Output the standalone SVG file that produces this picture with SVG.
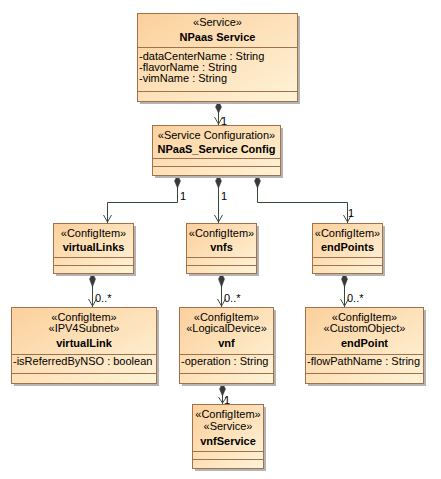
<svg xmlns="http://www.w3.org/2000/svg" width="441" height="479" viewBox="0 0 441 479">
<defs>
<linearGradient id="g" x1="0" y1="0" x2="1" y2="1">
<stop offset="0" stop-color="#FBD09C"/>
<stop offset="1" stop-color="#FFF3D8"/>
</linearGradient>
<style>
.sh{fill:#B4B4B4}
.bx{fill:url(#g);stroke:#A0714A;stroke-width:1}
.sp{stroke:#A0714A;stroke-width:1}
text{font-family:"Liberation Sans",Arial,sans-serif;font-size:11px;fill:#000}
.c{text-anchor:middle}
.b{font-weight:bold}
.ln{fill:none;stroke:#2F4A36;stroke-width:1}
.dm{fill:#3A3A3A;stroke:#3A3A3A;stroke-width:0.5}
.ar{fill:none;stroke:#4A4A4A;stroke-width:1}
</style>
</defs>
<rect width="441" height="479" fill="#fff"/>

<g id="connectors">
<!-- NPaas Service -> Config -->
<path class="ln" d="M218.5,101 V125"/>
<path class="dm" d="M218.5,101 L221.5,107 L218.5,113 L215.5,107 Z"/>
<path class="ar" d="M214.5,117 L218.5,124 L222.5,117"/>
<text x="221" y="125">1</text>
<!-- Config -> virtualLinks -->
<path class="ln" d="M177.5,175 V202.5 H107.5 V223"/>
<path class="dm" d="M177.5,175 L180.5,181 L177.5,188 L174.5,181 Z"/>
<path class="ar" d="M103.5,215 L107.5,222 L111.5,215"/>
<text x="180" y="200">1</text>
<!-- Config -> vnfs -->
<path class="ln" d="M218.5,175 V223"/>
<path class="dm" d="M218.5,175 L221.5,181 L218.5,188 L215.5,181 Z"/>
<path class="ar" d="M214.5,215 L218.5,222 L222.5,215"/>
<text x="221" y="200">1</text>
<!-- Config -> endPoints -->
<path class="ln" d="M257.5,175 V202.5 H347.5 V223"/>
<path class="dm" d="M257.5,175 L260.5,181 L257.5,188 L254.5,181 Z"/>
<path class="ar" d="M343.5,215 L347.5,222 L351.5,215"/>
<text x="348" y="217">1</text>
<!-- virtualLinks -> virtualLink -->
<path class="ln" d="M92.5,273 V307"/>
<path class="dm" d="M92.5,273 L95.5,279 L92.5,287 L89.5,279 Z"/>
<path class="ar" d="M88.5,299 L92.5,306 L96.5,299"/>
<text x="95" y="302">0..*</text>
<!-- vnfs -> vnf -->
<path class="ln" d="M221.5,273 V307"/>
<path class="dm" d="M221.5,273 L224.5,279 L221.5,287 L218.5,279 Z"/>
<path class="ar" d="M217.5,299 L221.5,306 L225.5,299"/>
<text x="224" y="302">0..*</text>
<!-- endPoints -> endPoint -->
<path class="ln" d="M344.5,273 V307"/>
<path class="dm" d="M344.5,273 L347.5,279 L344.5,287 L341.5,279 Z"/>
<path class="ar" d="M340.5,299 L344.5,306 L348.5,299"/>
<text x="347" y="302">0..*</text>
<!-- vnf -> vnfService -->
<path class="ln" d="M222.5,383 V404"/>
<path class="dm" d="M222.5,383 L225.5,389 L222.5,396 L219.5,389 Z"/>
<path class="ar" d="M218.5,397 L222.5,403 L226.5,397"/>
<text x="224" y="404">1</text>
</g>

<g id="npaasService">
<rect class="sh" x="140" y="16" width="160" height="88"/>
<rect class="bx" x="137.5" y="13.5" width="160" height="88"/>
<path class="sp" d="M137.5,47.5 H297.5 M137.5,91.5 H297.5"/>
<text class="c" x="217.5" y="26">«Service»</text>
<text class="c b" x="217.5" y="41">NPaas Service</text>
<text x="139" y="60">-dataCenterName : String</text>
<text x="139" y="71">-flavorName : String</text>
<text x="139" y="82">-vimName : String</text>
</g>

<g id="serviceConfig">
<rect class="sh" x="155" y="128" width="128" height="50"/>
<rect class="bx" x="152.5" y="125.5" width="128" height="50"/>
<path class="sp" d="M152.5,158.5 H280.5 M152.5,166.5 H280.5"/>
<text class="c" x="216.5" y="139">«Service Configuration»</text>
<text class="c b" x="216.5" y="153">NPaaS_Service Config</text>
</g>

<g id="virtualLinks">
<rect class="sh" x="56" y="226" width="80" height="50"/>
<rect class="bx" x="53.5" y="223.5" width="80" height="50"/>
<path class="sp" d="M53.5,257.5 H133.5 M53.5,265.5 H133.5"/>
<text class="c" x="93.5" y="237">«ConfigItem»</text>
<text class="c b" x="93.5" y="251">virtualLinks</text>
</g>

<g id="vnfs">
<rect class="sh" x="189" y="226" width="70" height="50"/>
<rect class="bx" x="186.5" y="223.5" width="70" height="50"/>
<path class="sp" d="M186.5,257.5 H256.5 M186.5,265.5 H256.5"/>
<text class="c" x="221.5" y="237">«ConfigItem»</text>
<text class="c b" x="221.5" y="251">vnfs</text>
</g>

<g id="endPoints">
<rect class="sh" x="315" y="226" width="70" height="50"/>
<rect class="bx" x="312.5" y="223.5" width="70" height="50"/>
<path class="sp" d="M312.5,257.5 H382.5 M312.5,265.5 H382.5"/>
<text class="c" x="347.5" y="237">«ConfigItem»</text>
<text class="c b" x="347.5" y="251">endPoints</text>
</g>

<g id="virtualLink">
<rect class="sh" x="14" y="310" width="145" height="76"/>
<rect class="bx" x="11.5" y="307.5" width="145" height="76"/>
<path class="sp" d="M11.5,354.5 H156.5 M11.5,373.5 H156.5"/>
<text class="c" x="84" y="321">«ConfigItem»</text>
<text class="c" x="84" y="332">«IPV4Subnet»</text>
<text class="c b" x="84" y="347">virtualLink</text>
<text x="13" y="365">-isReferredByNSO : boolean</text>
</g>

<g id="vnf">
<rect class="sh" x="182" y="310" width="94" height="76"/>
<rect class="bx" x="179.5" y="307.5" width="94" height="76"/>
<path class="sp" d="M179.5,354.5 H273.5 M179.5,373.5 H273.5"/>
<text class="c" x="226.5" y="321">«ConfigItem»</text>
<text class="c" x="226.5" y="332">«LogicalDevice»</text>
<text class="c b" x="226.5" y="347">vnf</text>
<text x="181" y="365">-operation : String</text>
</g>

<g id="endPoint">
<rect class="sh" x="308" y="310" width="118" height="76"/>
<rect class="bx" x="305.5" y="307.5" width="118" height="76"/>
<path class="sp" d="M305.5,354.5 H423.5 M305.5,373.5 H423.5"/>
<text class="c" x="364.5" y="321">«ConfigItem»</text>
<text class="c" x="364.5" y="332">«CustomObject»</text>
<text class="c b" x="364.5" y="347">endPoint</text>
<text x="307" y="365">-flowPathName : String</text>
</g>

<g id="vnfService">
<rect class="sh" x="195" y="407" width="71" height="64"/>
<rect class="bx" x="192.5" y="404.5" width="71" height="64"/>
<path class="sp" d="M192.5,451.5 H263.5 M192.5,459.5 H263.5"/>
<text class="c" x="228" y="418">«ConfigItem»</text>
<text class="c" x="228" y="430">«Service»</text>
<text class="c b" x="228" y="445">vnfService</text>
</g>
</svg>
